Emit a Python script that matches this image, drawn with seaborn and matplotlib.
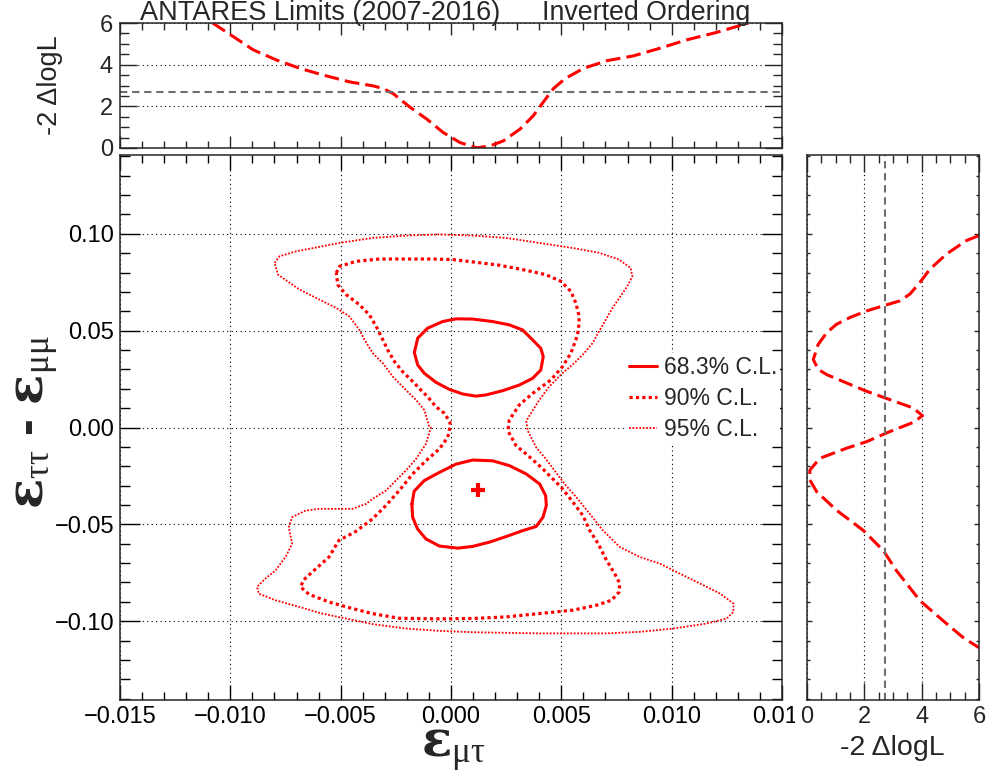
import numpy as np
import matplotlib
matplotlib.use('Agg')
import matplotlib.pyplot as plt
import matplotlib.ticker as mticker
from matplotlib.patches import Rectangle
from matplotlib.lines import Line2D
import seaborn as sns

# ---------------- data ----------------
# 68.3% C.L. contour, upper island
cl68_up_x = [-0.00166, -0.00151, -0.00106, -0.00038, 0.00023, 0.00098, 0.00189, 0.00264,
             0.00324, 0.00370, 0.00407, 0.00418, 0.00407, 0.00370, 0.00309, 0.00234,
             0.00158, 0.00113, 0.00053, -0.00008, -0.00068, -0.00121, -0.00151]
cl68_up_y = [0.0387, 0.0461, 0.0513, 0.0547, 0.0561, 0.0560, 0.0547, 0.0530,
             0.0504, 0.0452, 0.0409, 0.0366, 0.0297, 0.0254, 0.0219, 0.0190,
             0.0168, 0.0162, 0.0173, 0.0197, 0.0233, 0.0280, 0.0323]
# 68.3% C.L. contour, lower island
cl68_lo_x = [-0.00177, -0.00167, -0.00121, -0.00053, 0.00023, 0.00098, 0.00189, 0.00265,
             0.00341, 0.00402, 0.00429, 0.00432, 0.00417, 0.00386, 0.00326, 0.00250,
             0.00174, 0.00098, 0.00030, -0.00053, -0.00114, -0.00152, -0.00174]
cl68_lo_y = [-0.0395, -0.0329, -0.0274, -0.0232, -0.0189, -0.0168, -0.0172, -0.0197,
             -0.0240, -0.0292, -0.0352, -0.0403, -0.0463, -0.0511, -0.0532, -0.0563,
             -0.0592, -0.0614, -0.0623, -0.0612, -0.0575, -0.0523, -0.0463]
# 90% C.L. contour
cl90_x = [-0.00520, -0.00505, -0.00430, -0.00324, -0.00204, -0.00083, 0.00008, 0.00098,
          0.00219, 0.00339, 0.00430, 0.00498, 0.00543, 0.00566, 0.00581, 0.00578,
          0.00566, 0.00543, 0.00505, 0.00452, 0.00370, 0.00309, 0.00264, 0.00258,
          0.00295, 0.00341, 0.00409, 0.00500, 0.00553, 0.00598, 0.00629, 0.00667,
          0.00705, 0.00742, 0.00765, 0.00762, 0.00727, 0.00659, 0.00553, 0.00371,
          0.00250, 0.00098, -0.00053, -0.00235, -0.00356, -0.00462, -0.00553, -0.00644,
          -0.00682, -0.00667, -0.00621, -0.00553, -0.00508, -0.00432, -0.00356, -0.00295,
          -0.00235, -0.00174, -0.00114, -0.00053, -0.00015, -0.00005, -0.00005, -0.00030,
          -0.00068, -0.00106, -0.00136, -0.00173, -0.00219, -0.00256, -0.00287, -0.00309,
          -0.00339, -0.00370, -0.00415, -0.00475, -0.00513]
cl90_y = [0.0798, 0.0832, 0.0858, 0.0870, 0.0870, 0.0870, 0.0867, 0.0855,
          0.0838, 0.0812, 0.0789, 0.0755, 0.0703, 0.0642, 0.0573, 0.0504,
          0.0453, 0.0383, 0.0314, 0.0245, 0.0176, 0.0116, 0.0038, -0.0017,
          -0.0094, -0.0137, -0.0206, -0.0309, -0.0386, -0.0455, -0.0532, -0.0600,
          -0.0686, -0.0755, -0.0806, -0.0849, -0.0892, -0.0918, -0.0943, -0.0964,
          -0.0978, -0.0986, -0.0988, -0.0985, -0.0961, -0.0930, -0.0901, -0.0861,
          -0.0823, -0.0786, -0.0738, -0.0669, -0.0583, -0.0537, -0.0472, -0.0403,
          -0.0326, -0.0240, -0.0172, -0.0111, -0.0051, 0.0000, 0.0029, 0.0073,
          0.0107, 0.0159, 0.0193, 0.0237, 0.0288, 0.0340, 0.0401, 0.0453,
          0.0522, 0.0582, 0.0634, 0.0686, 0.0737]
# 95% C.L. contour
cl95_x = [-0.00799, -0.00777, -0.00701, -0.00581, -0.00505, -0.00354, -0.00204, -0.00053,
          0.00098, 0.00249, 0.00400, 0.00551, 0.00671, 0.00762, 0.00814, 0.00822,
          0.00799, 0.00762, 0.00732, 0.00701, 0.00671, 0.00641, 0.00603, 0.00558,
          0.00505, 0.00445, 0.00400, 0.00362, 0.00341, 0.00348, 0.00386, 0.00424,
          0.00470, 0.00515, 0.00568, 0.00629, 0.00689, 0.00765, 0.00856, 0.00947,
          0.01038, 0.01129, 0.01220, 0.01280, 0.01280, 0.01250, 0.01159, 0.01008,
          0.00856, 0.00705, 0.00553, 0.00402, 0.00250, 0.00098, -0.00053, -0.00205,
          -0.00356, -0.00477, -0.00583, -0.00689, -0.00795, -0.00871, -0.00879, -0.00841,
          -0.00795, -0.00750, -0.00720, -0.00735, -0.00720, -0.00659, -0.00598, -0.00447,
          -0.00386, -0.00356, -0.00295, -0.00250, -0.00205, -0.00159, -0.00114, -0.00091,
          -0.00098, -0.00121, -0.00158, -0.00204, -0.00264, -0.00309, -0.00354, -0.00392,
          -0.00415, -0.00460, -0.00520, -0.00596, -0.00686, -0.00784]
cl95_y = [0.0850, 0.0884, 0.0910, 0.0936, 0.0953, 0.0979, 0.0991, 0.0997,
          0.0991, 0.0979, 0.0953, 0.0927, 0.0902, 0.0867, 0.0824, 0.0781,
          0.0729, 0.0668, 0.0617, 0.0556, 0.0496, 0.0435, 0.0383, 0.0332,
          0.0280, 0.0211, 0.0142, 0.0073, 0.0034, -0.0017, -0.0103, -0.0154,
          -0.0223, -0.0292, -0.0360, -0.0446, -0.0532, -0.0617, -0.0669, -0.0703,
          -0.0755, -0.0806, -0.0858, -0.0909, -0.0952, -0.0986, -0.1012, -0.1038,
          -0.1055, -0.1063, -0.1063, -0.1063, -0.1060, -0.1057, -0.1050, -0.1038,
          -0.1015, -0.0986, -0.0961, -0.0926, -0.0892, -0.0858, -0.0823, -0.0780,
          -0.0738, -0.0669, -0.0600, -0.0515, -0.0463, -0.0429, -0.0420, -0.0420,
          -0.0395, -0.0369, -0.0326, -0.0274, -0.0223, -0.0163, -0.0086, 0.0000,
          0.0003, 0.0090, 0.0142, 0.0193, 0.0263, 0.0332, 0.0383, 0.0453,
          0.0504, 0.0573, 0.0617, 0.0660, 0.0712, 0.0789]

best_fit_x = [0.00123]
best_fit_y = [-0.0321]

# 1D profile in e_mutau (top panel)
prof_mt_x = [-0.0108, -0.00987, -0.00896, -0.00790, -0.00684, -0.00579, -0.00458, -0.00352,
             -0.00307, -0.00262, -0.00186, -0.00110, -0.00035, 0.00041, 0.00116, 0.00177,
             0.00237, 0.00313, 0.00373, 0.00418, 0.00464, 0.00517, 0.00600, 0.00706,
             0.00826, 0.00947, 0.01068, 0.01204, 0.01348]
prof_mt_chi2 = [6.00, 5.35, 4.71, 4.22, 3.82, 3.50, 3.17, 2.98,
                2.85, 2.61, 1.96, 1.39, 0.74, 0.26, 0.01, 0.10,
                0.34, 0.91, 1.55, 2.20, 2.85, 3.33, 3.82, 4.19,
                4.42, 4.79, 5.19, 5.55, 6.00]

# 1D profile in e_tautau - e_mumu (right panel)
prof_tt_y = [0.0991, 0.0965, 0.0896, 0.0818, 0.0749, 0.0689, 0.0654, 0.0628,
             0.0602, 0.0568, 0.0533, 0.0490, 0.0429, 0.0351, 0.0300, 0.0273,
             0.0230, 0.0187, 0.0144, 0.0101, 0.0061, 0.0026, -0.0021, -0.0073,
             -0.0107, -0.0159, -0.0220, -0.0271, -0.0332, -0.0427, -0.0531, -0.0635,
             -0.0739, -0.0894, -0.0998, -0.1085, -0.1137]
prof_tt_chi2 = [6.00, 5.56, 4.87, 4.29, 3.94, 3.59, 3.24, 2.66,
                2.08, 1.50, 1.03, 0.69, 0.39, 0.22, 0.39, 0.69,
                1.38, 2.08, 2.89, 3.70, 4.03, 3.70, 2.89, 2.08,
                1.38, 0.45, 0.10, 0.10, 0.34, 1.03, 1.96, 2.66,
                3.12, 3.94, 4.75, 5.45, 6.00]

chi2_90 = 2.71

# ---------------- style ----------------
sns.set_style('ticks')
plt.rcParams['font.family'] = ['Liberation Sans', 'DejaVu Sans']
plt.rcParams['mathtext.fontset'] = 'custom'
plt.rcParams['mathtext.rm'] = 'Liberation Serif'
plt.rcParams['mathtext.it'] = 'Liberation Serif'
plt.rcParams['mathtext.bf'] = 'DejaVu Serif:bold'
plt.rcParams['axes.linewidth'] = 1.1
plt.rcParams['xtick.direction'] = 'in'
plt.rcParams['ytick.direction'] = 'in'

RED = '#ff0000'
W, H = 998, 775
TICK_FS = 17


def fpos(l, t, r, b):
    return [l / W, 1 - b / H, (r - l) / W, (b - t) / H]


def minus_fmt(fmt):
    def f(v, pos):
        s = fmt % (0.0 if abs(v) < 1e-12 else v)
        return s.replace('-', '\u2212')
    return mticker.FuncFormatter(f)


def dotted_grid(ax, axis):
    ax.grid(True, axis=axis, which='major', color='black', lw=0.8, ls=(0, (1, 3)))


fig = plt.figure(figsize=(W / 100, H / 100), dpi=100)
ax = fig.add_axes(fpos(120, 155, 782, 700))
ax_t = fig.add_axes(fpos(120, 23, 782, 148))
ax_r = fig.add_axes(fpos(807, 155, 979, 700))
ax_r.set_zorder(1)

dashed = (0, (4.8, 2))

# ---------------- main panel ----------------
def closed(xs, ys):
    return list(xs) + [xs[0]], list(ys) + [ys[0]]

x, y = closed(cl68_up_x, cl68_up_y)
sns.lineplot(x=x, y=y, sort=False, estimator=None, ax=ax, color=RED, lw=2.2, ls='-')
x, y = closed(cl68_lo_x, cl68_lo_y)
sns.lineplot(x=x, y=y, sort=False, estimator=None, ax=ax, color=RED, lw=2.2, ls='-')
x, y = closed(cl90_x, cl90_y)
sns.lineplot(x=x, y=y, sort=False, estimator=None, ax=ax, color=RED, lw=2.3, ls=(0, (1, 1)))
x, y = closed(cl95_x, cl95_y)
sns.lineplot(x=x, y=y, sort=False, estimator=None, ax=ax, color=RED, lw=1.3, ls=(0, (1, 0.9)))
ax.plot(best_fit_x, best_fit_y, marker='+', ms=10, mew=3, color=RED, ls='none')

ax.set_xlim(-0.015, 0.015)
ax.set_ylim(-0.1407, 0.1407)
ax.xaxis.set_major_locator(mticker.MultipleLocator(0.005))
ax.xaxis.set_minor_locator(mticker.MultipleLocator(0.001))
ax.yaxis.set_major_locator(mticker.MultipleLocator(0.05))
ax.yaxis.set_minor_locator(mticker.MultipleLocator(0.01))
ax.xaxis.set_major_formatter(minus_fmt('%.3f'))
ax.yaxis.set_major_formatter(minus_fmt('%.2f'))
ax.tick_params(axis='both', which='both', top=True, right=True, labelsize=TICK_FS, pad=4, colors='black')
ax.tick_params(axis='x', which='major', length=10.8, width=1)
ax.tick_params(axis='x', which='minor', length=5.8, width=1)
ax.tick_params(axis='y', which='major', length=14.4, width=1)
ax.tick_params(axis='y', which='minor', length=7.2, width=1)
dotted_grid(ax, 'both')
ax.set_xlabel('')
ax.set_ylabel('')

handles = [Line2D([], [], color=RED, lw=2.2, ls='-'),
           Line2D([], [], color=RED, lw=2.3, ls=(0, (1, 1))),
           Line2D([], [], color=RED, lw=1.3, ls=(0, (1, 0.9)))]
leg = ax.legend(handles, ['68.3% C.L.', '90% C.L.', '95% C.L.'], loc='upper left',
                bbox_to_anchor=(0.765, 0.636), frameon=True, fontsize=16.5,
                handlelength=1.25, handletextpad=0.3, labelspacing=0.35,
                borderpad=0.1, borderaxespad=0, fancybox=False)
leg.get_frame().set_facecolor('white')
leg.get_frame().set_edgecolor('none')
leg.get_frame().set_alpha(1)

# ---------------- top panel ----------------
sns.lineplot(x=prof_mt_x, y=prof_mt_chi2, sort=False, estimator=None, ax=ax_t,
             color=RED, lw=2.2, ls=dashed)
ax_t.axhline(chi2_90, color='#6e6e6e', lw=1.5, ls=(0, (3.5, 2.3)))
ax_t.set_xlim(-0.015, 0.015)
ax_t.set_ylim(0, 6)
ax_t.xaxis.set_major_locator(mticker.MultipleLocator(0.005))
ax_t.xaxis.set_minor_locator(mticker.MultipleLocator(0.001))
ax_t.yaxis.set_major_locator(mticker.MultipleLocator(2))
ax_t.yaxis.set_minor_locator(mticker.MultipleLocator(0.5))
ax_t.yaxis.set_major_formatter(mticker.FormatStrFormatter('%d'))
ax_t.tick_params(axis='both', which='both', top=True, right=True, labelsize=TICK_FS, pad=5)
ax_t.tick_params(axis='x', which='both', labelbottom=False)
ax_t.tick_params(axis='x', which='major', length=8.6, width=1)
ax_t.tick_params(axis='x', which='minor', length=4.7, width=1)
ax_t.tick_params(axis='y', which='major', length=12, width=1)
ax_t.tick_params(axis='y', which='minor', length=6.5, width=1)
dotted_grid(ax_t, 'y')
ax_t.set_xlabel('')
ax_t.set_ylabel('')

# ---------------- right panel ----------------
sns.lineplot(x=prof_tt_chi2, y=prof_tt_y, sort=False, estimator=None, ax=ax_r,
             color=RED, lw=2.2, ls=dashed)
ax_r.axvline(chi2_90, color='#6e6e6e', lw=1.5, ls=(0, (3.5, 2.3)))
ax_r.set_xlim(0, 6)
ax_r.set_ylim(-0.1407, 0.1407)
ax_r.xaxis.set_major_locator(mticker.MultipleLocator(2))
ax_r.xaxis.set_minor_locator(mticker.MultipleLocator(0.5))
ax_r.yaxis.set_major_locator(mticker.MultipleLocator(0.05))
ax_r.yaxis.set_minor_locator(mticker.MultipleLocator(0.01))
ax_r.xaxis.set_major_formatter(mticker.FormatStrFormatter('%d'))
ax_r.tick_params(axis='both', which='both', top=True, right=True, labelsize=TICK_FS, pad=4)
ax_r.tick_params(axis='y', which='both', labelleft=False)
ax_r.tick_params(axis='x', which='major', length=12, width=1)
ax_r.tick_params(axis='x', which='minor', length=6, width=1)
ax_r.tick_params(axis='y', which='major', length=3.6, width=1)
ax_r.tick_params(axis='y', which='minor', length=2, width=1)
dotted_grid(ax_r, 'x')
ax_r.set_xlabel('')
ax_r.set_ylabel('')

# the right pad covers the tail of the last main x label, as in the original
fig.patches.append(Rectangle((795 / W, 0), (W - 795) / W, 70 / H, transform=fig.transFigure,
                             facecolor='white', edgecolor='none', zorder=0.5))

# ---------------- texts ----------------
fig.text(140 / W, 1 - 20 / H, 'ANTARES Limits (2007-2016)', fontsize=19.5, va='baseline', ha='left')
fig.text(542 / W, 1 - 20 / H, 'Inverted Ordering', fontsize=19.3, va='baseline', ha='left')
fig.text(50 / W, 1 - 85 / H, '-2 \u0394logL', fontsize=19.5, rotation=90, ha='center', va='center')
fig.text(892 / W, 1 - 755 / H, '-2 \u0394logL', fontsize=20.5, ha='center', va='baseline')
fig.text(453 / W, 1 - 757 / H, '$\\mathbf{\u03b5}_{\u03bc\u03c4}$', fontsize=36,
         ha='center', va='baseline')
fig.text(38 / W, 1 - 422 / H,
         '$\\mathbf{\u03b5}_{\u03c4\u03c4}$ - $\\mathbf{\u03b5}_{\u03bc\u03bc}$',
         fontsize=36, fontweight='bold', rotation=90, ha='center', va='center')

fig.savefig('out.png', dpi=100)
